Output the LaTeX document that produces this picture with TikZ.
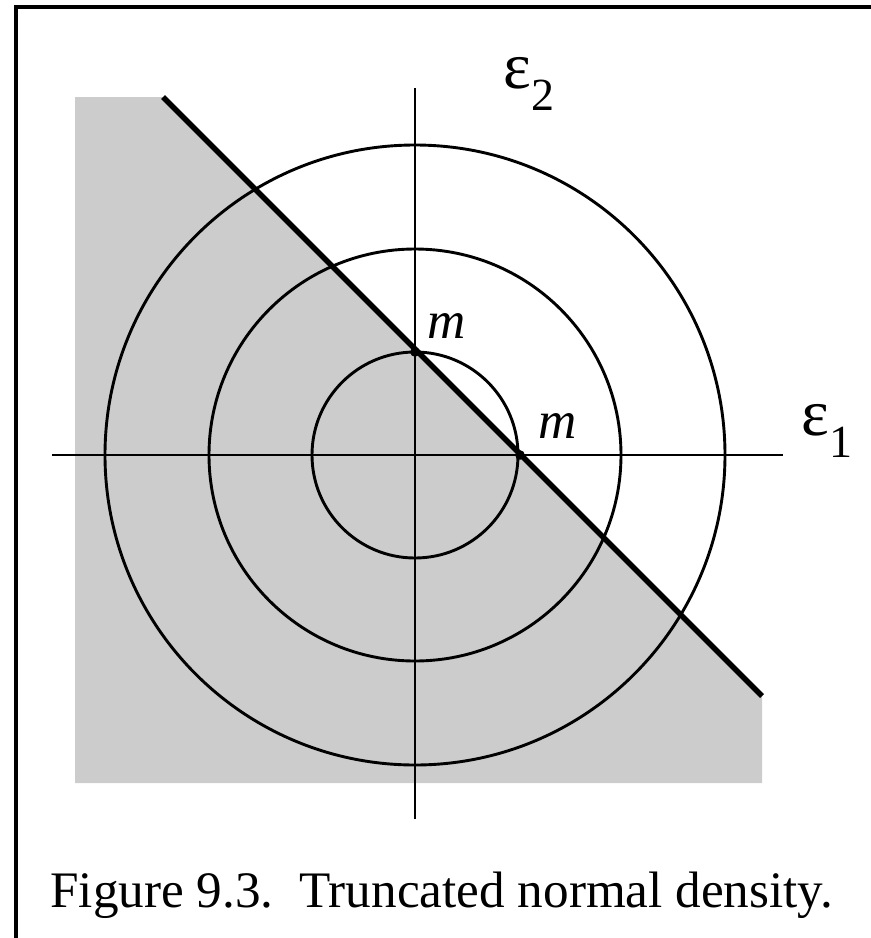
\documentclass[tikz,border=0pt]{standalone}
\usepackage{fontspec}
\setmainfont{Liberation Serif}
\begin{document}
\begin{tikzpicture}[x=0.5pt,y=-0.5pt,
    lbl/.style={inner sep=0pt,anchor=base west},
    thin line/.style={line width=1.45pt},
    cut line/.style={line width=2.8pt}]
  \useasboundingbox (0,0) rectangle (871,938);
  % Frame (top and left only)
  \draw[line width=2.2pt] (871,7) -- (16,7) -- (16,938);

  % Truncated region
  \coordinate (cutA) at (163,97);
  \coordinate (cutB) at (762,696);
  \fill[black!20] (75,97) -- (cutA) -- (cutB) -- (762,783) -- (75,783) -- cycle;

  % Contours
  \coordinate (O) at (415,455);
  \foreach \r in {51.5pt,103pt,155pt}
    \draw[thin line] (O) circle[radius=\r];

  % Axes
  \coordinate (e1l) at (52,455);
  \coordinate (e1r) at (783,455);
  \coordinate (e2b) at (415,819);
  \coordinate (e2t) at (415,88);
  \draw[thin line] (e1l) -- (e1r);
  \draw[thin line] (e2b) -- (e2t);
  \node[lbl] (eps1) at (801,435) {\fontsize{33}{33}\selectfont ε\raisebox{-11pt}{\fontsize{23}{23}\selectfont 1}};
  \node[lbl] (eps2) at (503,88) {\fontsize{33}{33}\selectfont ε\raisebox{-11pt}{\fontsize{23}{23}\selectfont 2}};

  % Truncation line and its intercepts
  \draw[cut line] (cutA) -- (cutB);
  \coordinate (mA) at (415,352);
  \coordinate (mB) at (520,455);
  \fill (mA) circle[radius=2.4pt];
  \fill (mB) circle[radius=2.4pt];
  \node[lbl] (labA) at (427,338) {\fontsize{26.5}{26.5}\selectfont\itshape m};
  \node[lbl] (labB) at (538,438) {\fontsize{26.5}{26.5}\selectfont\itshape m};

  % Caption
  \node[lbl] (cap) at (50,907) {\fontsize{25.6}{25.6}\selectfont Figure 9.3.\ \ Truncated normal density.};
\end{tikzpicture}
\end{document}
